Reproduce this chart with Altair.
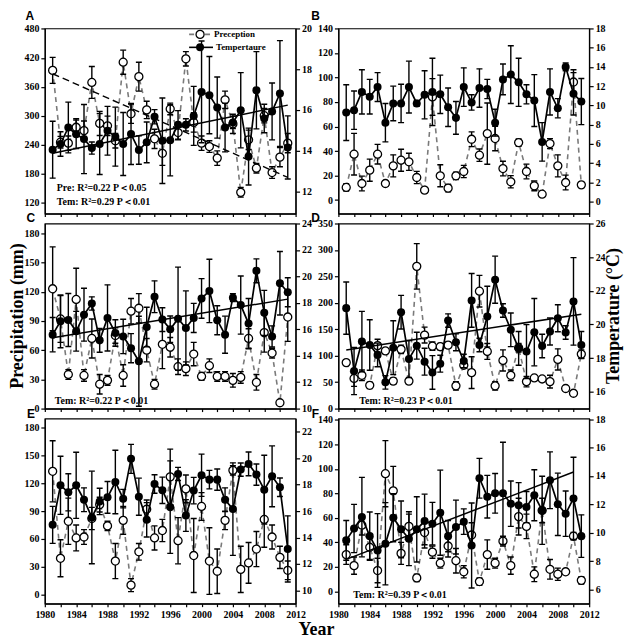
import altair as alt
import pandas as pd

SERIF = "Liberation Serif"
SANS = "Liberation Sans"

YEARS = list(range(1981, 2012))

# ---------------- Panel A ----------------
A_pre = [394, 245, 243, 276, 269, 369, 284, 279, 248, 411, 304, 381, 312, 252, 222, 314,
         265, 418, 286, 243, 236, 212, 333, 283, 141, 250, 191, 300, 182, 214, 243]
A_pre_err = [27, 12, 15, 18, 20, 33, 25, 20, 15, 25, 20, 30, 18, 20, 25, 12,
             15, 15, 20, 15, 12, 15, 18, 20, 10, 20, 10, 15, 12, 20, 20]
A_tem = [14.04, 14.32, 15.13, 14.8, 14.56, 14.12, 14.32, 14.97, 14.68, 14.32, 14.81, 14.02,
         14.4, 15.66, 14.48, 14.5, 15.26, 15.26, 15.7, 16.88, 16.72, 16.11, 15.13, 15.38,
         15.98, 13.7, 16.96, 15.57, 15.92, 16.8, 14.15]
A_tem_err = [1.4, 0.6, 1.25, 0.7, 1.7, 0.3, 1.5, 1.2, 1.45, 1.55, 1.5, 0.7, 1.0, 0.35, 2.1,
             1.75, 0.7, 0.3, 1.45, 2.5, 1.9, 1.5, 1.2, 0.3, 1.85, 1.4, 1.9, 0.7, 1.4, 2.6, 1.55]
A_pre_trend_years = [1981, 2011]
A_pre_trend = [387, 172]
A_tem_trend_years = [1981, 2011]
A_tem_trend = [13.86, 16.23]

# ---------------- Panel B ----------------
B_pre = [10.3, 37.4, 13.5, 24.4, 37.4, 13.5, 27.9, 32.5, 31.2, 18.4, 8.1, 84.1, 19.8, 9.7,
         19.8, 23.3, 49.6, 36.6, 54.2, 50.2, 25.7, 14.9, 46.9, 23.3, 11.6, 4.8, 46.1, 27.9,
         14.3, 96.3, 12.4]
B_pre_err = [3, 17, 6, 9, 8, 2, 9, 9, 7, 5, 2, 15, 9, 3, 3, 5, 6, 5, 25, 10, 6, 5, 3, 6,
             4, 1, 4, 9, 6, 10, 2]
B_tem = [9.25, 9.5, 11.4, 10.9, 11.9, 8.2, 10.2, 10.2, 11.9, 10.2, 11.1, 11.4, 11.15, 9.8,
         8.7, 11.9, 10.3, 11.8, 11.7, 8.2, 12.7, 13.2, 12.4, 11.15, 10.5, 6.2, 11.4, 9.7,
         14.0, 11.2, 10.4]
B_tem_err = [2.9, 2.0, 2.3, 1.8, 1.5, 2.0, 1.8, 2.0, 2.7, 0.3, 2.5, 3.5, 2.0, 2.0, 1.7, 2.0,
             0.8, 2.0, 1.0, 1.4, 1.6, 3.0, 2.5, 1.0, 2.7, 2.0, 2.4, 1.0, 0.4, 2.2, 2.4]

# ---------------- Panel C ----------------
C_pre = [123, 92, 35, 112, 34, 72, 25, 29, 75, 34, 100, 103, 60, 25, 66, 63, 43, 41, 56, 33,
         44, 33, 33, 29, 32, 72, 27, 78, 57, 6, 94]
C_pre_err = [43, 24, 5, 32, 6, 20, 10, 5, 8, 11, 13, 15, 12, 5, 25, 10, 8, 7, 12, 4, 7, 5, 5,
             7, 6, 10, 8, 20, 5, 2, 25]
C_tem = [15.59, 16.6, 16.7, 15.85, 17.1, 17.95, 15.16, 16.86, 15.72, 15.46, 14.57, 13.58,
         16.17, 18.46, 16.73, 16.0, 16.8, 16.1, 16.86, 18.33, 18.9, 16.68, 15.59, 18.39,
         17.83, 16.43, 20.42, 17.24, 15.46, 19.48, 18.8]
C_tem_err = [1.3, 2.0, 2.0, 1.5, 2.0, 0.5, 0.9, 2.5, 1.0, 1.3, 1.1, 3.4, 1.5, 1.2, 0.9, 1.0,
             3.9, 2.8, 1.1, 1.5, 2.4, 1.1, 1.4, 0.3, 2.2, 1.9, 0.9, 1.7, 0.8, 2.4, 1.1]
C_tem_trend_years = [1981, 2011]
C_tem_trend = [15.36, 18.28]

# ---------------- Panel D ----------------
D_pre = [87, 57, 63, 44, 119, 109, 52, 112, 52, 269, 139, 118, 117, 120, 43, 82, 68, 222,
         108, 43, 91, 63, 115, 51, 58, 56, 51, 93, 38, 29, 103]
D_pre_err = [3, 15, 10, 6, 12, 5, 6, 8, 5, 43, 15, 8, 6, 6, 8, 5, 30, 30, 15, 8, 20, 10, 8,
             10, 3, 2, 12, 20, 3, 2, 8]
D_tem = [20.97, 17.23, 18.98, 18.78, 18.19, 16.56, 18.62, 20.73, 17.95, 18.74, 17.79, 17.15,
         17.67, 20.23, 18.94, 17.83, 21.43, 18.78, 20.47, 22.66, 20.83, 19.68, 18.58, 18.39,
         19.54, 18.72, 19.58, 20.37, 19.52, 21.37, 18.78]
D_tem_err = [1.55, 1.4, 1.8, 1.5, 0.7, 0.4, 1.6, 1.0, 1.1, 0.8, 0.8, 1.0, 0.5, 0.4, 0.5, 0.4,
             1.6, 0.4, 1.8, 1.4, 0.4, 1.0, 1.0, 1.6, 2.0, 0.7, 0.8, 0.8, 0.4, 2.6, 0.8]
D_tem_trend_years = [1981, 2011]
D_tem_trend = [18.48, 20.61]

# ---------------- Panel E ----------------
E_pre = [133, 39, 79, 61, 62, 82, 97, 74, 36, 80, 10, 46, 92, 61, 69, 127, 58, 114, 42, 95,
         36, 25, 80, 134, 27, 34, 49, 81, 62, 40, 26]
E_pre_err = [33, 20, 25, 14, 8, 12, 8, 5, 19, 15, 7, 9, 10, 13, 12, 30, 25, 15, 40, 15, 36,
             24, 10, 5, 25, 22, 19, 30, 13, 12, 10]
E_tem = [14.96, 17.95, 17.42, 17.95, 16.86, 15.52, 16.73, 17.04, 18.2, 16.94, 19.95, 17.09,
         15.34, 18.05, 17.57, 16.3, 18.81, 15.67, 17.55, 18.71, 18.38, 18.38, 16.86, 16.15,
         19.14, 19.57, 18.76, 17.62, 18.63, 17.8, 13.14]
E_tem_err = [1.4, 2.2, 1.4, 2.5, 0.9, 3.5, 1.0, 1.2, 2.4, 0.7, 1.1, 1.4, 1.3, 0.7, 1.0, 3.5,
             0.5, 1.2, 1.0, 1.6, 0.7, 0.8, 0.9, 3.5, 0.5, 0.9, 0.8, 2.6, 2.3, 0.7, 2.5]

# ---------------- Panel F ----------------
F_pre = [30, 21, 54, 36, 17, 96, 82, 31, 53, 11, 48, 32, 23, 37, 25, 16, 46, 8, 30, 23, 41,
         21, 61, 53, 14, 66, 18, 14, 16, 45, 9]
F_pre_err = [8, 7, 8, 10, 10, 27, 20, 9, 10, 3, 10, 5, 4, 9, 10, 5, 10, 3, 12, 4, 4, 7, 15,
             10, 6, 10, 8, 5, 2, 3, 3]
F_tem = [9.46, 10.3, 11.1, 9.76, 8.75, 9.22, 11.06, 10.24, 9.58, 10.24, 10.82, 10.64, 11.41,
         9.76, 10.4, 10.78, 9.1, 13.84, 12.54, 12.78, 12.78, 12.05, 11.93, 11.81, 12.64,
         11.58, 13.7, 12.0, 11.34, 12.42, 9.76]
F_tem_err = [1.4, 1.7, 2.8, 1.7, 2.6, 2.9, 1.7, 2.0, 1.9, 2.3, 1.9, 1.5, 3.0, 1.1, 1.9, 0.9,
             3.0, 1.4, 1.5, 1.4, 3.6, 1.6, 1.6, 1.1, 1.8, 2.4, 2.0, 2.2, 1.6, 2.9, 1.5]
F_tem_trend_years = [1981, 2010]
F_tem_trend = [8.12, 14.28]

X_TICKS = list(range(1980, 2013, 2))

W, H = 252, 186
PT = 65


def text_layer(txt, x, y, size=10, font=SERIF, weight="bold", align="left",
               baseline="middle", angle=0):
    return alt.Chart(pd.DataFrame({"t": [txt]})).mark_text(
        font=font, fontSize=size, fontWeight=weight, align=align, baseline=baseline,
        angle=angle, color="black"
    ).encode(text="t:N", x=alt.value(x), y=alt.value(y))


def make_panel(label, label_x, label_y, pre, pre_err, tem, tem_err,
               left_dom, left_ticks, right_dom, right_ticks, bottom,
               tem_trend=None, pre_trend=None, extras=()):
    df = pd.DataFrame({"year": YEARS, "pre": pre, "pre_err": pre_err,
                       "tem": tem, "tem_err": tem_err})
    xaxis = alt.Axis(values=X_TICKS, format="d", labels=bottom,
                     labelExpr="datum.value % 4 == 0 ? datum.label : ''",
                     tickSize=3, grid=False, title=None, labelPadding=3,
                     labelFlush=False, labelOverlap=False)
    X = alt.X("year:Q", scale=alt.Scale(domain=[1980, 2012], nice=False, zero=False),
              axis=xaxis)
    lscale = alt.Scale(domain=left_dom, nice=False, zero=False)
    lax = alt.Axis(values=left_ticks, orient="left", title=None, grid=False, tickSize=4,
                   labelPadding=2)
    rscale = alt.Scale(domain=right_dom, nice=False, zero=False)
    rax = alt.Axis(values=right_ticks, orient="right", title=None, grid=False, tickSize=4,
                   labelPadding=2)

    def YL(f):
        return alt.Y(f, type="quantitative", scale=lscale, axis=lax)

    def YR(f):
        return alt.Y(f, type="quantitative", scale=rscale, axis=rax)

    base = alt.Chart(df).encode(x=X)

    # precipitation (left axis)
    p_bounds = base.transform_calculate(
        lo="datum.pre - datum.pre_err", hi="datum.pre + datum.pre_err")
    pre_line = base.mark_line(color="#7a7a7a", strokeDash=[5, 4], strokeWidth=1.6,
                              clip=True).encode(y=YL("pre"))
    pre_rule = p_bounds.mark_rule(color="black", strokeWidth=1.4, clip=True).encode(
        y=YL("lo"), y2=alt.Y2("hi"))
    pre_caps = p_bounds.transform_fold(["lo", "hi"], as_=["k", "v"]).mark_tick(
        orient="horizontal", size=6, thickness=1.4, color="black", clip=True,
        opacity=1).encode(y=YL("v"))
    pre_pts = base.mark_point(shape="circle", filled=True, fill="white", stroke="black",
                              strokeWidth=1.3, size=PT, opacity=1, clip=True).encode(
        y=YL("pre"))
    left_layers = [pre_line, pre_rule, pre_caps, pre_pts]
    if pre_trend is not None:
        tdf = pd.DataFrame({"year": pre_trend[0], "v": pre_trend[1]})
        left_layers.append(alt.Chart(tdf).mark_line(
            color="black", strokeDash=[7, 4], strokeWidth=1.4).encode(x=X, y=YL("v")))

    # temperature (right axis)
    t_bounds = base.transform_calculate(
        lo="datum.tem - datum.tem_err", hi="datum.tem + datum.tem_err")
    tem_line = base.mark_line(color="black", strokeWidth=1.7, clip=True).encode(y=YR("tem"))
    tem_rule = t_bounds.mark_rule(color="black", strokeWidth=1.4, clip=True).encode(
        y=YR("lo"), y2=alt.Y2("hi"))
    tem_caps = t_bounds.transform_fold(["lo", "hi"], as_=["k", "v"]).mark_tick(
        orient="horizontal", size=6, thickness=1.4, color="black", clip=True,
        opacity=1).encode(y=YR("v"))
    tem_pts = base.mark_point(shape="circle", filled=True, color="black", size=PT,
                              opacity=1, clip=True).encode(y=YR("tem"))
    right_layers = [tem_line, tem_rule, tem_caps, tem_pts]
    if tem_trend is not None:
        tdf = pd.DataFrame({"year": tem_trend[0], "v": tem_trend[1]})
        right_layers.append(alt.Chart(tdf).mark_line(
            color="black", strokeWidth=1.5).encode(x=X, y=YR("v")))

    left = alt.layer(*left_layers)
    right = alt.layer(*right_layers)
    lab = text_layer(label, label_x, label_y, size=12, font=SANS, align="center",
                     baseline="top")
    return alt.layer(left, right, lab, *extras).resolve_scale(y="independent").properties(
        width=W, height=H)


# legend (panel A)
leg_pre_line = alt.Chart(pd.DataFrame({"k": ["Preception"]})).mark_rule(
    color="#7a7a7a", strokeDash=[5, 3], strokeWidth=1.6).encode(
    x=alt.value(145), x2=alt.value(167), y=alt.value(6))
leg_pre_pt = alt.Chart(pd.DataFrame({"k": ["Preception"]})).mark_point(
    shape="circle", filled=True, fill="white", stroke="black", strokeWidth=1.3, size=PT,
    opacity=1).encode(x=alt.value(156), y=alt.value(6))
leg_tem_line = alt.Chart(pd.DataFrame({"k": ["Tempertaure"]})).mark_rule(
    color="black", strokeWidth=1.6).encode(
    x=alt.value(145), x2=alt.value(169), y=alt.value(19))
leg_tem_pt = alt.Chart(pd.DataFrame({"k": ["Tempertaure"]})).mark_point(
    shape="circle", filled=True, color="black", size=PT, opacity=1).encode(
    x=alt.value(156), y=alt.value(19))

A = make_panel("A", -15, -17, A_pre, A_pre_err, A_tem, A_tem_err,
               [97, 481], list(range(120, 481, 60)), [10.9, 20], list(range(12, 21, 2)),
               False, tem_trend=(A_tem_trend_years, A_tem_trend),
               pre_trend=(A_pre_trend_years, A_pre_trend),
               extras=(leg_pre_line, leg_pre_pt, leg_tem_line, leg_tem_pt,
                       text_layer("Preception", 170, 6, size=9),
                       text_layer("Tempertaure", 172, 19, size=9),
                       text_layer("Pre: R²=0.22 P＜0.05", 12, 160, size=10),
                       text_layer("Tem: R²=0.29 P＜0.01", 12, 174, size=10)))
B = make_panel("B", -23, -17, B_pre, B_pre_err, B_tem, B_tem_err,
               [-11, 140], list(range(0, 141, 20)), [-1.25, 18], list(range(0, 19, 2)),
               False)
C = make_panel("C", -14, -11, C_pre, C_pre_err, C_tem, C_tem_err,
               [0, 190], list(range(0, 181, 30)), [10, 24], list(range(10, 25, 2)),
               False, tem_trend=(C_tem_trend_years, C_tem_trend),
               extras=(text_layer("Tem: R²=0.22 P＜0.01", 10, 178, size=10),
                       text_layer("Precipitation (mm)", -27, 93, size=18, align="center",
                                  angle=270)))
D = make_panel("D", -23, -11, D_pre, D_pre_err, D_tem, D_tem_err,
               [0, 350], list(range(0, 351, 50)), [15, 26], list(range(16, 27, 2)),
               False, tem_trend=(D_tem_trend_years, D_tem_trend),
               extras=(text_layer("Tem: R²=0.23 P＜0.01", 21, 178, size=10),
                       text_layer("Temperature (°C)", 277, 93, size=18, align="center",
                                  angle=270)))
E = make_panel("E", -14, -10, E_pre, E_pre_err, E_tem, E_tem_err,
               [-10, 190], list(range(0, 181, 30)), [9, 23], list(range(10, 23, 2)),
               True,
               extras=(text_layer("Year", 273, 218, size=18, align="center",
                                  baseline="alphabetic"),))
F = make_panel("F", -23, -10, F_pre, F_pre_err, F_tem, F_tem_err,
               [-10, 141], list(range(0, 141, 20)), [5, 18.05], list(range(6, 19, 2)),
               True, tem_trend=(F_tem_trend_years, F_tem_trend),
               extras=(text_layer("Tem: R²=0.39 P＜0.01", 15, 177, size=10),))

chart = alt.concat(A, B, C, D, E, F, columns=2, spacing={"row": 10, "column": 43},
                   bounds="flush").properties(padding=0).configure_view(
    stroke="black", strokeWidth=1.2).configure_axis(
    labelFont=SERIF, labelFontWeight="bold", labelFontSize=10, labelColor="black",
    domainColor="black", tickColor="black", domainWidth=1.2, tickWidth=1.2)

chart.save("out.html", embed_options={"renderer": "svg", "actions": False})
